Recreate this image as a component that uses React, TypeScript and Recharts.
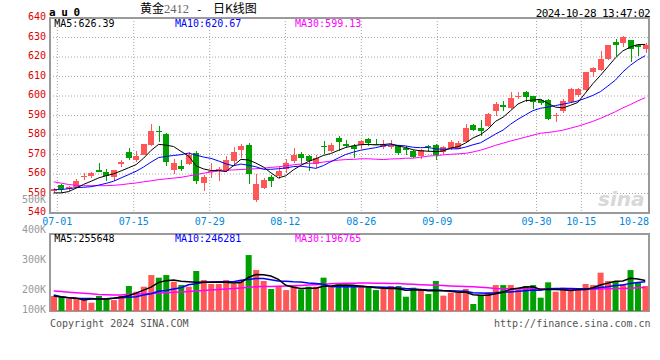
import React from 'react';
import { ComposedChart, Bar, Line, XAxis, YAxis, CartesianGrid, ReferenceArea, Cell } from 'recharts';

// au0 daily K, 80 sessions (06-28 .. 10-28)
const open = [
  551.2, 554.2, 552.5, 553.2, 558.5, 558.8, 562.0, 560.8, 558.3, 565.3,
  571.2, 567.0, 570.0, 574.8, 582.3, 580.3, 562.3, 564.3, 565.3, 570.8,
  555.3, 561.3, 561.8, 561.5, 566.5, 572.5, 575.0, 546.5, 552.8, 558.3,
  559.0, 562.5, 566.7, 570.3, 569.0, 565.3, 574.5, 572.0, 578.3, 575.5,
  574.3, 574.7, 578.0, 575.3, 574.0, 573.8, 574.7, 573.3, 572.0, 569.2,
  574.5, 575.0, 571.5, 573.5, 573.0, 576.3, 585.0, 583.8, 584.5, 592.5,
  595.4, 593.7, 599.6, 602.2, 600.0, 598.0, 598.0, 590.1, 592.4, 597.1,
  600.5, 603.1, 612.5, 613.3, 618.9, 627.6, 627.3, 628.6, 626.4, 624.2,
];
const high = [
  552.8, 554.8, 553.8, 557.2, 560.7, 560.8, 565.8, 562.8, 562.3, 567.3,
  573.3, 571.8, 575.5, 585.8, 584.5, 580.8, 567.8, 567.3, 571.5, 571.7,
  559.5, 565.7, 563.7, 569.0, 574.0, 575.3, 575.8, 559.8, 557.8, 559.5,
  563.7, 567.8, 573.3, 571.5, 569.5, 569.5, 576.7, 575.7, 579.5, 577.3,
  575.5, 577.2, 578.5, 578.0, 577.5, 577.5, 575.0, 574.3, 572.5, 573.0,
  575.0, 575.5, 574.3, 577.2, 576.7, 585.5, 585.8, 587.5, 591.3, 596.7,
  597.6, 602.2, 602.2, 602.8, 600.0, 598.5, 598.5, 591.2, 598.5, 604.3,
  604.3, 612.5, 615.0, 623.0, 626.1, 629.0, 630.9, 628.6, 626.9, 627.3,
];
const low = [
  550.2, 550.3, 551.5, 552.8, 557.0, 558.2, 560.8, 556.2, 556.2, 563.7,
  567.0, 566.2, 569.5, 574.5, 576.2, 564.2, 560.0, 561.5, 564.5, 555.0,
  551.5, 557.8, 556.2, 561.2, 565.3, 568.3, 554.8, 545.8, 552.3, 553.3,
  557.3, 560.3, 565.7, 565.3, 561.5, 563.3, 570.3, 571.2, 572.0, 573.3,
  568.3, 572.7, 574.3, 574.7, 573.0, 573.0, 569.7, 569.7, 568.0, 567.5,
  571.3, 567.2, 570.5, 572.4, 572.8, 575.8, 582.2, 579.7, 584.3, 589.7,
  592.5, 593.2, 598.5, 597.0, 593.2, 595.5, 587.8, 586.9, 591.2, 596.6,
  599.3, 602.6, 609.9, 613.0, 618.7, 620.5, 625.2, 617.6, 620.6, 621.8,
];
const close = [
  552.5, 552.2, 553.5, 556.5, 558.8, 560.3, 561.0, 558.8, 561.8, 566.2,
  568.3, 569.0, 575.3, 581.8, 581.5, 566.2, 565.8, 562.8, 570.0, 556.2,
  558.3, 561.7, 562.8, 567.0, 571.5, 574.5, 560.0, 554.8, 557.0, 556.5,
  561.5, 565.8, 569.8, 568.3, 566.7, 568.3, 574.2, 575.0, 576.2, 574.5,
  572.7, 576.7, 576.0, 574.8, 575.2, 575.0, 571.0, 572.2, 568.7, 572.5,
  574.2, 569.7, 573.7, 576.5, 575.8, 583.8, 582.8, 582.0, 590.8, 595.7,
  594.2, 599.2, 599.8, 599.3, 597.1, 596.3, 588.3, 590.4, 597.5, 603.6,
  603.6, 612.5, 614.2, 618.8, 626.1, 626.1, 630.3, 624.2, 625.2, 626.4,
];
const ma5 = [
  550.3, 550.3, 551.0, 552.8, 554.7, 556.3, 558.0, 559.1, 560.1, 561.6,
  563.2, 564.8, 568.1, 572.1, 575.2, 574.8, 574.1, 571.6, 569.3, 564.2,
  562.6, 561.8, 561.8, 561.2, 564.3, 567.5, 567.2, 565.6, 563.6, 560.6,
  558.0, 559.1, 562.1, 564.4, 566.4, 567.8, 569.5, 570.5, 572.1, 573.6,
  574.5, 575.0, 575.2, 574.9, 575.1, 575.5, 574.4, 573.6, 572.4, 571.9,
  571.7, 571.5, 571.8, 573.3, 574.0, 575.9, 578.5, 580.2, 583.0, 587.0,
  589.1, 592.4, 595.9, 597.6, 597.9, 598.3, 596.2, 594.3, 593.9, 595.2,
  596.7, 601.5, 606.3, 610.5, 615.0, 619.5, 623.1, 625.1, 626.4, 626.39,
];
const ma10 = [
  552.0, 552.0, 552.5, 553.0, 553.2, 553.5, 554.3, 555.2, 556.3, 558.0,
  559.7, 561.4, 563.6, 566.1, 568.4, 569.0, 569.5, 569.9, 570.7, 569.7,
  568.7, 568.0, 566.7, 565.2, 564.2, 565.1, 564.5, 563.7, 562.4, 562.4,
  562.7, 563.1, 563.8, 564.0, 563.5, 562.9, 564.3, 566.3, 568.2, 570.0,
  571.2, 572.2, 572.9, 573.5, 574.4, 575.0, 574.7, 574.4, 573.7, 573.5,
  573.6, 572.9, 572.7, 572.9, 572.9, 573.8, 575.0, 576.0, 578.2, 580.5,
  582.5, 585.5, 588.1, 590.3, 592.5, 593.7, 594.3, 595.1, 595.8, 596.6,
  597.5, 598.8, 600.3, 602.2, 605.1, 608.1, 612.3, 615.7, 618.5, 620.67,
];
const ma30 = [
  556.0, 555.3, 554.6, 554.2, 554.0, 554.0, 554.0, 554.0, 554.2, 554.5,
  555.0, 555.4, 556.0, 556.5, 557.1, 557.5, 557.9, 558.3, 559.0, 559.7,
  560.4, 561.0, 561.5, 561.9, 562.1, 562.3, 562.5, 562.7, 563.0, 563.4,
  563.7, 564.2, 564.7, 565.1, 565.4, 565.6, 566.1, 566.6, 567.1, 567.4,
  567.5, 567.8, 567.8, 567.6, 567.4, 567.7, 567.8, 568.1, 568.1, 568.6,
  569.2, 569.4, 569.8, 570.1, 570.3, 570.6, 571.3, 572.2, 573.4, 574.7,
  575.8, 576.9, 577.9, 578.9, 579.9, 580.9, 581.3, 581.8, 582.5, 583.5,
  584.5, 585.7, 587.0, 588.5, 590.2, 591.9, 593.9, 595.6, 597.5, 599.13,
];
const volume = [
  126000, 126000, 101000, 112000, 101000, 70000, 126000, 101000, 92000, 126000,
  210000, 162000, 204000, 302000, 280000, 302000, 246000, 218000, 204000, 336000,
  260000, 227000, 227000, 260000, 227000, 260000, 470000, 344000, 252000, 185000,
  210000, 176000, 218000, 182000, 204000, 204000, 280000, 204000, 224000, 204000,
  204000, 218000, 204000, 176000, 185000, 210000, 210000, 120000, 196000, 176000,
  143000, 252000, 129000, 154000, 154000, 185000, 59000, 134000, 157000, 218000,
  218000, 218000, 182000, 210000, 218000, 112000, 241000, 162000, 196000, 176000,
  176000, 227000, 218000, 322000, 252000, 252000, 227000, 344000, 238000, 210000,
];
const volMa5 = [
  126000, 117000, 112000, 108000, 92000, 100000, 101000, 101000, 108000, 118000,
  128000, 150000, 175000, 200000, 240000, 255000, 260000, 250000, 245000, 241000,
  241000, 241000, 241000, 241000, 236000, 240000, 282000, 306000, 304000, 294000,
  266000, 216000, 199000, 190000, 192000, 191000, 207000, 210000, 216000, 218000,
  216000, 208000, 204000, 195000, 191000, 190000, 187000, 175000, 177000, 178000,
  170000, 172000, 170000, 165000, 158000, 160000, 136000, 133000, 132000, 145000,
  158000, 182000, 192000, 202000, 204000, 182000, 180000, 180000, 178000, 172000,
  179000, 180000, 195000, 218000, 234000, 250000, 252000, 275000, 268000, 255648,
];
const volMa10 = [
  134000, 120000, 112000, 108000, 106000, 104000, 101000, 103000, 108000, 112000,
  116000, 120000, 135000, 145000, 165000, 172000, 185000, 195000, 220000, 228000,
  241000, 243000, 245000, 246000, 246000, 258000, 265000, 274000, 272000, 262000,
  252000, 250000, 246000, 244000, 236000, 232000, 225000, 206000, 204000, 205000,
  204000, 205000, 204000, 201000, 199000, 198000, 194000, 188000, 184000, 181000,
  176000, 176000, 172000, 170000, 168000, 165000, 153000, 152000, 150000, 153000,
  159000, 160000, 165000, 170000, 176000, 175000, 186000, 188000, 190000, 188000,
  186000, 187000, 190000, 198000, 204000, 215000, 218000, 232000, 239000, 246281,
];
const volMa30 = [
  168000, 163000, 158000, 153000, 149000, 144000, 139000, 136000, 134000, 135000,
  140000, 143000, 145000, 148000, 151000, 154000, 157000, 160000, 164000, 169000,
  173000, 177000, 181000, 185000, 189000, 194000, 200000, 203000, 205000, 206000,
  208000, 210000, 213000, 215000, 218000, 221000, 225000, 228000, 230000, 233000,
  234000, 235000, 235000, 234000, 233000, 232000, 230000, 227000, 224000, 221000,
  219000, 217000, 214000, 211000, 208000, 206000, 203000, 199000, 195000, 190000,
  187000, 186000, 186000, 186000, 186000, 185000, 185000, 184000, 182000, 180000,
  180000, 181000, 182000, 184000, 186000, 188000, 190000, 192000, 195000, 196765,
];

const dateLabels = ['07-01', '07-15', '07-29', '08-12', '08-26', '09-09', '09-30', '10-15', '10-28'];
const dateSlots = [0.48, 10.68, 20.83, 30.93, 41.08, 51.23, 64.48, 70.46, 79.5];
const priceTicks = [540, 550, 560, 570, 580, 590, 600, 610, 620, 630, 640];
const volGridTicks = [150000, 300000, 460000];
const volLabels = ['500K', '400K', '300K', '200K', '100K'];

const rows = open.map((o, i) => ({
  i,
  open: o,
  high: high[i],
  low: low[i],
  close: close[i],
  ma5: ma5[i],
  ma10: ma10[i],
  ma30: ma30[i],
  vol: volume[i],
  vma5: volMa5[i],
  vma10: volMa10[i],
  vma30: volMa30[i],
}));

const RED = '#ff5757';
const GREEN = '#00a000';
const FRAME = '#9a9a9a';
const GRID = '#a8a8a8';
const MONO = '"DejaVu Sans Mono", monospace';
const last = rows.length - 1;

function Candle(props: any) {
  const { x, y, width, height, payload } = props;
  const { open: o, close: c, high: h, low: l } = payload;
  const color = c >= o ? RED : GREEN;
  const k = h > l ? height / (h - l) : 0;
  const yo = y + (h - o) * k;
  const yc = y + (h - c) * k;
  const top = Math.min(yo, yc);
  const bh = Math.max(1, Math.abs(yo - yc));
  const cx = Math.round(x + width / 2) + 0.5;
  return (
    <g shapeRendering="crispEdges">
      <line x1={cx} x2={cx} y1={y} y2={y + height} stroke={color} strokeWidth={1} />
      <rect x={x} y={top} width={width} height={bh} fill={color} />
    </g>
  );
}

function PriceTick(props: any) {
  const { x, y, payload } = props;
  return (
    <text x={x} y={y + 2} textAnchor="end" fill="#e00000" fontSize={10} fontFamily={MONO}>
      {payload.value}
    </text>
  );
}

function DateTick(props: any) {
  const { x, y, payload } = props;
  const idx = dateSlots.indexOf(payload.value);
  const end = idx === dateSlots.length - 1;
  return (
    <text x={x} y={y + 12} textAnchor={end ? 'end' : 'middle'} fill="#0088dd" fontSize={10} fontFamily={MONO}>
      {dateLabels[idx]}
    </text>
  );
}

export default function App() {
  return (
    <div style={{ position: 'absolute', left: 0, top: 0, width: 660, height: 360, background: '#fff' }}>
      <div style={{ position: 'absolute', left: 0, top: 0 }}>
        <ComposedChart width={660} height={232} data={rows} margin={{ top: 18, right: 11, bottom: 0, left: 0 }}>
          <CartesianGrid stroke={GRID} strokeDasharray="1 2" />
          <XAxis
            type="number"
            dataKey="i"
            domain={[-0.5, 79.5]}
            allowDataOverflow
            ticks={dateSlots}
            interval={0}
            tick={<DateTick />}
            tickLine={false}
            axisLine={false}
            tickSize={0}
            tickMargin={0}
            height={19}
          />
          <YAxis
            domain={[540, 640]}
            allowDataOverflow
            ticks={priceTicks}
            interval={0}
            tick={<PriceTick />}
            tickLine={false}
            axisLine={false}
            tickSize={0}
            tickMargin={4}
            width={50}
          />
          <Bar dataKey={(d: any) => [d.low, d.high]} barSize={6} shape={(p: any) => <Candle {...p} />} isAnimationActive={false} />
          <Line type="linear" dataKey="ma30" stroke="#ff00ff" strokeWidth={1} dot={false} activeDot={false} isAnimationActive={false} />
          <Line type="linear" dataKey="ma10" stroke="#0000ff" strokeWidth={1} dot={false} activeDot={false} isAnimationActive={false} />
          <Line type="linear" dataKey="ma5" stroke="#000000" strokeWidth={1} dot={false} activeDot={false} isAnimationActive={false} />
          <ReferenceArea x1={-0.5} x2={79.5} y1={540} y2={640} fill="none" stroke={FRAME} strokeWidth={2} />
        </ComposedChart>
      </div>

      <div style={{ position: 'absolute', left: 0, top: 232 }}>
        <ComposedChart width={660} height={100} data={rows} margin={{ top: 2, right: 11, bottom: 0, left: 0 }}>
          <CartesianGrid stroke={GRID} strokeDasharray="1 2" />
          <XAxis
            type="number"
            dataKey="i"
            domain={[-0.5, 79.5]}
            allowDataOverflow
            ticks={dateSlots.slice(0, -1)}
            interval={0}
            tick={false}
            tickLine={{ stroke: GRID, strokeDasharray: '1 2' }}
            axisLine={false}
            tickSize={9}
            height={21}
          />
          <YAxis
            domain={[0, 646800]}
            allowDataOverflow
            ticks={volGridTicks}
            tick={false}
            tickLine={false}
            axisLine={false}
            width={50}
          />
          <Bar dataKey="vol" barSize={6} isAnimationActive={false}>
            {rows.map((r, i) => (
              <Cell key={i} fill={r.close >= r.open ? RED : GREEN} />
            ))}
          </Bar>
          <Line type="linear" dataKey="vma30" stroke="#ff00ff" strokeWidth={1.5} dot={false} activeDot={false} isAnimationActive={false} />
          <Line type="linear" dataKey="vma10" stroke="#0000ff" strokeWidth={1.5} dot={false} activeDot={false} isAnimationActive={false} />
          <Line type="linear" dataKey="vma5" stroke="#000000" strokeWidth={1.5} dot={false} activeDot={false} isAnimationActive={false} />
          <ReferenceArea x1={-0.5} x2={79.5} y1={0} y2={646800} fill="none" stroke={FRAME} strokeWidth={2} />
        </ComposedChart>
      </div>

      <svg width={660} height={360} style={{ position: 'absolute', left: 0, top: 0, pointerEvents: 'none' }}>
        <text x={49} y={15.7} fontFamily={MONO} fontWeight="bold" fontSize={11} letterSpacing={-0.5} fill="#000">a u 0</text>
        <text x={140} y={13} fontFamily='"Noto Sans CJK SC", sans-serif' fontSize={12} fill="#000">黄金</text>
        <text x={164} y={13.3} fontFamily='"Liberation Serif", serif' fontSize={12.5} fill="#666">2412</text>
        <text x={196} y={13} fontFamily={MONO} fontSize={11} fill="#000">-</text>
        <text x={213} y={13} fontFamily='"Noto Sans CJK SC", sans-serif' fontSize={12} fill="#000">日K线图</text>
        <text x={535.7} y={16.5} fontFamily={MONO} fontSize={11} letterSpacing={-0.6} fill="#000">2024-10-28 13:47:02</text>

        <text x={54.3} y={27.3} fontFamily={MONO} fontSize={10} fill="#000">MA5:{ma5[last].toFixed(2)}</text>
        <text x={175} y={27.3} fontFamily={MONO} fontSize={10} fill="#0000ff">MA10:{ma10[last].toFixed(2)}</text>
        <text x={295} y={27.3} fontFamily={MONO} fontSize={10} fill="#ff00ff">MA30:{ma30[last].toFixed(2)}</text>

        <text x={54.3} y={241.7} fontFamily={MONO} fontSize={10} fill="#000">MA5:{volMa5[last]}</text>
        <text x={175} y={241.7} fontFamily={MONO} fontSize={10} fill="#0000ff">MA10:{volMa10[last]}</text>
        <text x={295} y={241.7} fontFamily={MONO} fontSize={10} fill="#ff00ff">MA30:{volMa30[last]}</text>

        {volLabels.map((t, i) => (
          <text key={t} x={46} y={[203.3, 233.3, 262.7, 293.3, 313.3][i]} textAnchor="end" fontFamily={MONO} fontSize={10} fill="#999">
            {t}
          </text>
        ))}

        <text x={598} y={206} fontFamily='"DejaVu Sans", sans-serif' fontStyle="italic" fontWeight="bold" fontSize={20} fill="#d8d8d8">sina</text>

        <text x={50} y={326.5} fontFamily={MONO} fontSize={10} fill="#555">Copyright 2024 SINA.COM</text>
        <text x={494} y={326.5} fontFamily={MONO} fontSize={10} fill="#555">http://finance.sina.com.cn</text>
      </svg>
    </div>
  );
}
